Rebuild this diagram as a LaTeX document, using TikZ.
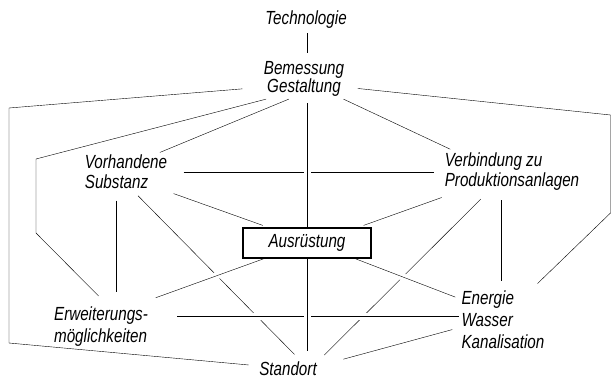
\documentclass[tikz,border=0pt]{standalone}
\usepackage{fontspec}
\newfontfamily\dinfont[FakeStretch=0.8]{Liberation Sans}
\usetikzlibrary{backgrounds}
\begin{document}
\begin{tikzpicture}[x=1pt,y=-1pt,
  line width=1.2pt,label node/.style={font=\dinfont\itshape\fontsize{19}{20}\selectfont,inner sep=2pt,align=left},
  box node/.style={label node,draw,minimum width=128pt,minimum height=30pt,align=center},
  gap line/.style={preaction={draw=white,line width=7pt}}]

  \useasboundingbox (0,0) rectangle (612,382);

  \node[label node,align=center] (tech) at (306,20) {Technologie};
  \node[label node,align=center] (bem) at (304,79) {Bemessung\\[-2pt]Gestaltung};
  \node[label node] (vor) at (126,172) {Vorhandene\\Substanz};
  \node[label node] (verb) at (512,172) {Verbindung zu\\Produktionsanlagen};
  \node[box node] (aus) at (307,243) {Ausrüstung};
  \node[label node] (erw) at (101,327) {Erweiterungs-\\[2pt]möglichkeiten};
  \node[label node] (ene) at (503,320) {Energie\\[2pt]Wasser\\[2pt]Kanalisation};
  \node[label node] (std) at (288,369) {Standort};

  % corners of the outer lines
  \coordinate (cl1) at (9,108);
  \coordinate (cl2) at (9,343);
  \coordinate (cl3) at (36,159);
  \coordinate (cl4) at (36,233);
  \coordinate (cr1) at (610.5,115);
  \coordinate (cr2) at (610.5,213);

  \begin{scope}[on background layer]
  \draw[shorten <=2pt,shorten >=6pt] (tech.south -| aus.north) -- (bem.north -| aus.north);
  \draw[shorten <=19pt,shorten >=8pt] (bem.191) -- (cl1) -- (cl2) -- (std.174);
  \draw[shorten >=12pt] (bem.208) -- (cl3) -- (cl4) -- (erw.75);
  \draw (bem.233) -- (vor.30);
  \draw[shorten >=3pt] (bem.333) -- (verb.160);
  \draw[shorten <=11pt,shorten >=7pt] (bem.349) -- (cr1) -- (cr2) -- (ene.47);

  \path
  (vor.east) edge[shorten <=14pt,shorten >=8pt] (verb.west)
  (vor.335) edge[shorten <=6pt,shorten >=6pt] (aus.158)
  (vor.243) edge[shorten <=9pt,shorten >=13pt] (vor.243 |- erw.north)
  (vor.292) edge[shorten <=6pt,shorten >=7pt] (std.40)
  (verb.200) edge[shorten <=12pt,shorten >=6pt] (aus.17)
  (verb.220) edge[shorten <=8pt,shorten >=7pt] (std.16)
  (verb.243) edge[shorten <=7pt,shorten >=7pt] (verb.243 |- ene.north)
  (std.6) edge[shorten <=25pt,shorten >=7pt] (ene.190);

  % lines that break the ones below them
  \draw[gap line,shorten >=20pt] (aus.200) -- (erw.32);
  \draw[gap line,shorten >=4pt] (aus.342) -- (ene.154);
  \draw[gap line,shorten <=27pt] (erw.12) -- (erw.12 -| ene.west);
  \draw[gap line,shorten <=4pt] (bem.south -| aus.north) -- (aus.north);
  \draw[gap line,shorten >=8pt] (aus.south) -- (aus.south |- std.north);
  \end{scope}
\end{tikzpicture}
\end{document}
